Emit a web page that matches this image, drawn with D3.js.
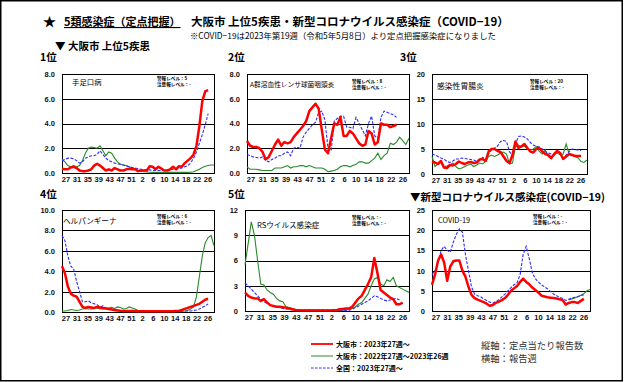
<!DOCTYPE html>
<html><head><meta charset="utf-8">
<script src="https://cdn.jsdelivr.net/npm/d3@7"></script>
<style>
html,body{margin:0;padding:0;background:#fff;}
svg{display:block;}
text{font-family:"Liberation Sans","Noto Sans CJK JP",Arial,sans-serif;}
.jp{font-family:"Noto Sans CJK JP","Liberation Sans",sans-serif;}
</style></head>
<body>
<script>
// ---------- data ----------
const xTickLabels = ["27","31","35","39","43","47","51","2","6","10","14","18","22","26"];

const hfmdRed   = [0.35,0.3,0.3,0.45,0.5,0.4,0.2,0.15,0.15,0.2,0.3,0.6,0.75,0.6,0.4,0.2,0.3,0.2,0.4,0.3,0.2,0.2,0.3,0.35,0.3,0.3,0.15,0.2,0.2,0.2,0.55,0.5,0.3,0.5,0.35,0.2,0.2,0.3,0.5,0.3,0.55,0.5,0.8,1.0,1.2,1.5,2.2,3.8,5.8,6.6,6.7];
const hfmdGreen = [1.1,0.9,0.6,0.5,0.6,0.5,0.6,1.0,1.6,2.0,2.1,2.05,2.0,2.2,1.8,1.4,1.7,1.6,1.2,0.9,0.7,0.65,0.6,0.5,0.4,0.35,0.2,0.15,0.1,0.08,0.06,0.05,0.05,0.05,0.05,0.05,0.05,0.05,0.05,0.05,0.05,0.05,0.05,0.05,0.06,0.1,0.2,0.3,0.45,0.55,0.6,0.65,0.65];
const hfmdBlue  = [1.0,1.1,1.2,1.2,1.15,1.0,0.8,0.9,1.2,1.3,1.4,1.4,1.5,1.8,1.5,1.2,1.0,0.9,0.8,0.75,0.7,0.65,0.55,0.5,0.45,0.4,0.35,0.3,0.25,0.25,0.25,0.2,0.2,0.2,0.2,0.2,0.2,0.25,0.3,0.3,0.35,0.4,0.5,0.6,0.8,1.2,1.7,2.4,3.1,3.9,4.8];

const gasRed   = [2.6,2.2,2.1,2.1,2.0,1.7,1.1,1.3,1.8,2.3,2.7,2.2,2.5,2.4,2.5,2.9,3.2,3.5,3.8,4.2,5.0,5.3,5.6,5.2,3.5,1.9,1.6,2.8,4.0,3.9,4.5,3.0,3.0,3.4,3.2,2.8,2.4,2.2,2.3,3.4,3.2,2.3,2.5,4.0,3.9,3.9,3.7,3.8,3.9];
const gasGreen = [0.5,0.3,0.3,0.3,0.25,0.2,0.2,0.2,0.2,0.4,0.4,0.4,0.5,0.6,0.4,0.5,0.5,0.6,0.6,0.5,0.6,0.5,0.4,0.4,0.4,0.3,0.1,0.15,0.2,0.3,0.5,0.6,0.6,0.5,0.6,0.7,0.9,0.9,0.8,0.8,1.0,1.2,1.6,1.1,1.4,1.6,2.4,2.3,2.5,2.9,2.6,2.3,2.8];
const gasBlue  = [1.5,1.4,1.3,1.25,1.2,1.3,1.0,0.9,1.1,1.2,1.4,1.4,1.6,1.7,1.4,2.0,2.1,2.0,2.9,3.3,3.6,3.9,4.1,4.9,5.0,4.3,2.0,1.8,4.2,4.4,4.6,4.6,3.7,3.7,3.6,4.5,4.0,3.5,3.0,4.0,4.6,3.0,2.8,4.5,5.0,4.9,4.8,4.7,4.5];

const gastroRed   = [2.5,2.3,2.0,2.6,1.3,1.2,1.8,1.7,2.0,2.5,2.2,2.0,2.3,2.4,2.2,2.3,2.9,3.0,2.6,4.5,5.0,5.0,4.6,4.4,3.5,2.6,2.2,3.8,6.5,5.2,5.5,6.0,5.2,4.5,4.3,5.0,5.2,4.5,4.0,3.8,3.2,4.0,4.6,4.2,3.0,3.5,4.0,3.8,3.6,3.6,3.6];
const gastroGreen = [3.5,1.5,2.0,2.5,1.5,1.6,1.8,2.2,1.5,1.0,1.2,1.5,1.8,2.0,1.5,1.8,2.2,2.0,2.5,3.5,3.8,3.5,3.8,4.2,4.4,4.0,2.0,2.2,5.5,5.8,5.5,5.6,5.0,4.8,5.0,5.5,4.5,4.0,4.8,3.5,3.0,4.0,4.2,3.8,4.0,6.0,4.0,3.8,3.5,3.2,2.5,2.3,2.8];
const gastroBlue  = [4.0,3.8,3.5,3.2,3.0,2.5,2.3,2.6,3.0,3.0,3.2,3.1,3.0,2.9,2.8,2.5,2.8,3.3,3.0,4.0,5.0,5.2,5.6,6.5,6.7,6.5,4.5,3.5,6.0,7.5,7.6,7.4,7.0,6.3,5.8,5.5,5.4,5.0,4.5,4.2,4.0,3.8,4.5,4.2,3.2,3.8,4.5,5.0,4.9,4.8,4.7];

const herpRed   = [4.5,3.8,2.5,1.8,1.6,1.5,1.0,0.5,0.4,0.5,0.45,0.4,0.5,0.45,0.4,0.35,0.3,0.25,0.2,0.15,0.12,0.1,0.1,0.1,0.1,0.1,0.08,0.08,0.08,0.08,0.08,0.08,0.08,0.08,0.08,0.08,0.08,0.08,0.08,0.1,0.1,0.2,0.3,0.4,0.5,0.6,0.7,0.8,1.0,1.2,1.3];
const herpGreen = [0.1,0.1,0.15,0.25,0.2,0.15,0.2,0.3,0.35,0.3,0.3,0.35,0.4,0.3,0.3,0.35,0.4,0.45,0.35,0.5,0.45,0.3,0.35,0.5,0.4,0.3,0.15,0.1,0.05,0.05,0.05,0.05,0.05,0.05,0.05,0.05,0.05,0.05,0.05,0.05,0.05,0.08,0.1,0.15,0.3,0.5,1.5,3.5,5.5,6.8,7.3,7.5,6.5];
const herpBlue  = [7.5,7.0,5.5,4.5,4.2,3.0,2.0,1.0,1.0,1.1,0.9,0.8,0.7,0.5,0.6,0.4,0.3,0.3,0.25,0.2,0.15,0.15,0.12,0.1,0.1,0.1,0.1,0.1,0.1,0.1,0.1,0.1,0.1,0.1,0.1,0.1,0.1,0.1,0.1,0.1,0.1,0.1,0.1,0.1,0.1,0.15,0.2,0.3,0.45,0.6,0.8];

const rsvRed   = [2.2,1.8,1.6,1.5,1.5,1.2,1.4,1.0,0.7,0.6,0.5,0.5,0.45,0.4,0.3,0.2,0.1,0.08,0.05,0.05,0.05,0.05,0.05,0.05,0.05,0.05,0.05,0.05,0.08,0.1,0.2,0.25,0.3,0.3,0.5,1.0,1.5,1.8,2.5,3.2,4.0,6.3,4.5,2.5,2.2,1.9,1.6,1.4,0.8,0.8,1.0];
const rsvGreen = [5.5,8.0,10.6,9.0,6.0,3.2,3.1,2.5,2.2,2.0,1.5,1.2,1.1,0.5,0.4,0.3,0.2,0.1,0.1,0.1,0.1,0.1,0.1,0.1,0.1,0.1,0.1,0.1,0.1,0.1,0.1,0.1,0.1,0.2,0.3,0.5,0.8,1.0,1.5,2.0,3.0,3.8,4.0,3.2,3.0,3.7,3.5,4.0,3.0,2.8,2.6,2.4,2.2];
const rsvBlue  = [3.3,3.0,2.6,2.2,1.8,1.4,1.1,0.9,0.7,0.6,0.5,0.4,0.3,0.25,0.2,0.15,0.1,0.1,0.1,0.1,0.1,0.1,0.1,0.1,0.1,0.1,0.1,0.1,0.1,0.1,0.1,0.1,0.1,0.1,0.2,0.4,0.6,0.8,1.0,1.2,1.5,1.8,1.7,1.5,1.3,1.2,1.3,1.4,1.5,1.3];

const covidRed   = [6.5,9.0,12.5,14.0,12.0,7.5,11.0,12.3,12.5,12.5,10.0,8.5,6.0,4.0,3.2,2.8,2.5,2.2,1.8,1.3,1.5,2.0,2.3,2.7,3.2,4.0,5.0,5.6,6.2,7.2,8.0,7.2,6.6,5.8,5.2,4.6,3.8,3.6,3.4,3.3,3.2,3.1,2.9,2.7,1.6,2.0,2.2,2.2,2.0,2.5,3.0];
const covidGreen = [null,null,null,null,null,null,null,null,null,null,null,null,null,null,null,null,null,null,null,null,null,null,null,null,null,null,null,null,null,null,null,null,null,null,null,null,null,null,null,null,null,null,null,null,null,2.7,3.0,3.2,3.5,3.9,4.3,5.0,5.3];
const covidBlue  = [9.0,10.0,12.0,15.0,16.0,15.0,14.5,17.0,19.0,20.3,19.5,14.0,10.0,6.0,4.2,3.8,3.5,3.0,2.6,2.2,2.0,2.3,2.8,3.5,4.2,5.0,5.8,6.5,7.0,9.0,14.0,16.0,13.0,9.5,8.0,7.2,6.5,6.0,5.5,4.8,4.2,3.8,3.4,3.1,2.6,2.9,3.2,3.4,3.6,3.8,4.0];

const panelNames  = ["手足口病","A群溶血性レンサ球菌咽頭炎","感染性胃腸炎","ヘルパンギーナ","RSウイルス感染症","COVID-19"];
const rankLabels  = ["1位","2位","3位","4位","5位",""];
const alarmLevels = ["5","8","20","6","-","-"];
const yTicks = [[0,2,4,6,8],[0,2,4,6,8],[0,5,10,15,20],[0,2,4,6,8,10],[0,3,6,9,12],[0,5,10,15,20,25]];
const redSeries   = [hfmdRed,gasRed,gastroRed,herpRed,rsvRed,covidRed];
const greenSeries = [hfmdGreen,gasGreen,gastroGreen,herpGreen,rsvGreen,covidGreen];
const blueSeries  = [hfmdBlue,gasBlue,gastroBlue,herpBlue,rsvBlue,covidBlue];
const legendLabels = ["大阪市：2023年27週〜","大阪市：2022年27週〜2023年26週","全国：2023年27週〜"];

// ---------- layout ----------
const W = 624, H = 382;
const svg = d3.select("body").append("svg").attr("width", W).attr("height", H);
svg.append("rect").attr("x",0.75).attr("y",0.75).attr("width",W-2.5).attr("height",H-2)
  .attr("fill","#fff").attr("stroke","#000").attr("stroke-width",1.5);

const boxes = [
  {l:62,r:214,t:74,b:173, fmt:".1f", lab:[40,61], nx:10, ny:11, ns:7.4, ay:6},
  {l:247,r:409,t:74,b:173, fmt:".1f", lab:[228,61], nx:3, ny:13, ns:6.7, ay:9},
  {l:432,r:587,t:74,b:174, fmt:"d", lab:[400,61], nx:5, ny:15, ns:7.8, ay:9},
  {l:62,r:214,t:210,b:312, fmt:".1f", lab:[40,198], nx:1, ny:14, ns:7.6, ay:8},
  {l:245,r:409,t:210,b:311, fmt:"d", lab:[228,198], nx:12, ny:18, ns:7.6, ay:9},
  {l:432,r:590,t:210,b:311, fmt:"d", lab:[410,198], nx:6, ny:13, ns:7.4, ay:8}
];
const colRed = "#ff0000", colGreen = "#2a8a2a", colBlue = "#2b2bff";

boxes.forEach((bx, i) => {
  const g = svg.append("g");
  const ticks = yTicks[i];
  const x = d3.scaleLinear().domain([0, 52]).range([bx.l, bx.r]);
  const y = d3.scaleLinear().domain([0, d3.max(ticks)]).range([bx.b, bx.t]);
  const xl = d3.scalePoint().domain(xTickLabels).range([bx.l + 3.5, bx.r - 6.5]);

  g.append("g").selectAll("line").data(ticks).join("line")
    .attr("x1", bx.l).attr("x2", bx.r)
    .attr("y1", d => Math.round(y(d)) + 0.5).attr("y2", d => Math.round(y(d)) + 0.5)
    .attr("stroke", "#000").attr("stroke-width", 1);
  g.append("rect").attr("x", bx.l + 0.5).attr("y", bx.t + 0.5)
    .attr("width", bx.r - bx.l).attr("height", bx.b - bx.t)
    .attr("fill", "none").attr("stroke", "#000").attr("stroke-width", 1);

  const yAxis = d3.axisLeft(y).tickValues(ticks).tickFormat(d3.format(bx.fmt)).tickSize(0).tickPadding(7);
  const ya = g.append("g").attr("transform", `translate(${bx.l},0)`).call(yAxis);
  ya.select(".domain").remove();
  ya.selectAll("text").attr("font-size", 7.5).attr("font-weight", "bold").attr("fill", "#111")
    .attr("font-family", "Liberation Sans, Arial, sans-serif");

  const xAxis = d3.axisBottom(xl).tickSize(0).tickPadding(4);
  const xa = g.append("g").attr("transform", `translate(0,${bx.b})`).call(xAxis);
  xa.select(".domain").remove();
  xa.selectAll("text").attr("font-size", 7.5).attr("font-weight", "bold").attr("fill", "#111")
    .attr("font-family", "Liberation Sans, Arial, sans-serif");

  const line = d3.line().defined(d => d != null).x((d, k) => x(k)).y(d => y(d));
  g.append("path").datum(greenSeries[i]).attr("d", line).attr("fill", "none")
    .attr("stroke", colGreen).attr("stroke-width", 1.1);
  g.append("path").datum(blueSeries[i]).attr("d", line).attr("fill", "none")
    .attr("stroke", colBlue).attr("stroke-width", 1.1).attr("stroke-dasharray", "3,1.5");
  g.append("path").datum(redSeries[i]).attr("d", line).attr("fill", "none")
    .attr("stroke", colRed).attr("stroke-width", 2.5).attr("stroke-linejoin", "round");

  g.append("text").attr("class", "jp").attr("x", bx.l + bx.nx).attr("y", bx.t + bx.ny)
    .attr("font-size", bx.ns).attr("fill", "#000").text(panelNames[i]);
  const ax = bx.r - 57;
  g.append("text").attr("class", "jp").attr("x", ax).attr("y", bx.t + bx.ay)
    .attr("font-size", 4.6).attr("font-weight", "bold").text("警報レベル：" + alarmLevels[i]);
  g.append("text").attr("class", "jp").attr("x", ax).attr("y", bx.t + bx.ay + 5.6)
    .attr("font-size", 4.6).attr("font-weight", "bold").text("注意報レベル：-");

  if (rankLabels[i]) {
    svg.append("text").attr("class", "jp").attr("x", bx.lab[0]).attr("y", bx.lab[1])
      .attr("font-size", 10.5).attr("font-weight", "bold").text(rankLabels[i]);
  }
});

// titles
svg.append("text").attr("class","jp").attr("x",43).attr("y",26).attr("font-size",13).attr("font-weight","bold").text("★");
svg.append("text").attr("class","jp").attr("x",64).attr("y",26).attr("font-size",11).attr("font-weight","bold")
  .attr("text-decoration","underline").text("5類感染症（定点把握）");
svg.append("text").attr("class","jp").attr("x",191).attr("y",26).attr("font-size",11.5).attr("font-weight","bold")
  .text("大阪市 上位5疾患・新型コロナウイルス感染症（COVID−19）");
svg.append("text").attr("class","jp").attr("x",190).attr("y",39).attr("font-size",8.4)
  .text("※COVID−19は2023年第19週（令和5年5月8日）より定点把握感染症になりました");
svg.append("text").attr("class","jp").attr("x",55).attr("y",50).attr("font-size",10.5).attr("font-weight","bold")
  .text("▼ 大阪市 上位5疾患");
svg.append("text").attr("class","jp").attr("x",410).attr("y",201).attr("font-size",10.5).attr("font-weight","bold")
  .text("▼新型コロナウイルス感染症(COVID−19)");

// legend
const legendY = [344, 356, 368];
const legendColors = [colRed, colGreen, colBlue];
const lg = svg.append("g");
legendLabels.forEach((lab, k) => {
  lg.append("line").attr("x1", 311).attr("x2", 333).attr("y1", legendY[k]).attr("y2", legendY[k])
    .attr("stroke", legendColors[k]).attr("stroke-width", k === 0 ? 1.8 : 1)
    .attr("stroke-dasharray", k === 2 ? "2.5,1.5" : null);
  lg.append("text").attr("class","jp").attr("x", 336).attr("y", legendY[k] + 3)
    .attr("font-size", 7).attr("font-weight", "bold").text(lab);
});
svg.append("text").attr("class","jp").attr("x",481).attr("y",349).attr("font-size",9.3).attr("fill","#333").text("縦軸：定点当たり報告数");
svg.append("text").attr("class","jp").attr("x",481).attr("y",362).attr("font-size",9.3).attr("fill","#333").text("横軸：報告週");
</script>
</body></html>
